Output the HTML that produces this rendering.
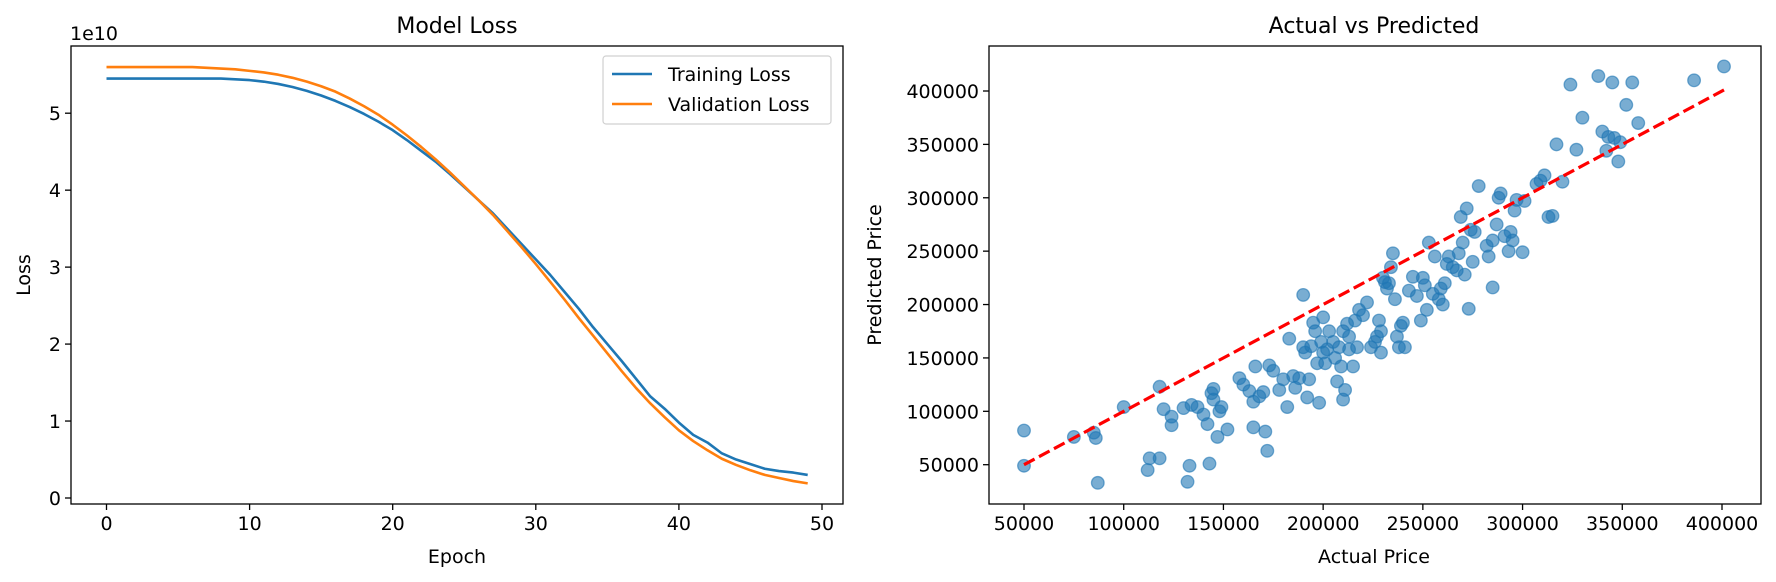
<!DOCTYPE html>
<html><head><meta charset="utf-8">
<style>
html,body{margin:0;padding:0;background:#fff;}
svg{display:block;font-family:"DejaVu Sans","Liberation Sans",sans-serif;}
</style></head>
<body>
<svg id="fig" width="1776" height="582" viewBox="0 0 1776 582" xmlns="http://www.w3.org/2000/svg">
<g id="left"></g>
<g id="right"></g>
</svg>
<script>
const epochs = Array.from({length:50},(_,i)=>i);
const trainLoss = [5.45,5.45,5.45,5.45,5.45,5.45,5.45,5.45,5.45,5.44,5.43,5.41,5.38,5.34,5.29,5.23,5.16,5.08,4.99,4.89,4.78,4.65,4.51,4.37,4.21,4.04,3.87,3.70,3.50,3.30,3.10,2.90,2.68,2.46,2.22,2.00,1.78,1.55,1.32,1.16,0.98,0.82,0.72,0.58,0.50,0.44,0.38,0.35,0.33,0.30];
const valLoss = [5.60,5.60,5.60,5.60,5.60,5.60,5.60,5.59,5.58,5.57,5.55,5.53,5.50,5.46,5.41,5.35,5.28,5.19,5.09,4.98,4.85,4.71,4.56,4.40,4.23,4.05,3.87,3.68,3.47,3.26,3.04,2.81,2.58,2.34,2.11,1.88,1.65,1.43,1.23,1.05,0.88,0.74,0.62,0.51,0.43,0.36,0.30,0.26,0.22,0.19];
const lossXTicks = [0,10,20,30,40,50];
const lossYTicks = [0,1,2,3,4,5];
const actualPrice = [50000,50000,75000,85000,86000,87000,100000,113000,112000,118000,118000,120000,124000,124000,130000,132000,133000,134000,137000,140000,142000,143000,144000,145000,145000,147000,148000,149000,152000,158000,160000,163000,165000,165000,166000,168000,170000,171000,172000,173000,175000,178000,180000,182000,183000,185000,186000,188000,190000,190000,191000,192000,193000,194000,195000,196000,197000,198000,199000,200000,200000,201000,202000,203000,205000,206000,207000,208000,209000,210000,210000,211000,212000,213000,213000,215000,216000,217000,218000,220000,222000,224000,226000,227000,228000,229000,229000,230000,231000,232000,233000,234000,235000,236000,237000,238000,239000,240000,241000,243000,245000,247000,249000,250000,251000,252000,253000,255000,256000,258000,259000,260000,261000,262000,263000,265000,267000,268000,269000,270000,271000,272000,273000,274000,275000,276000,278000,282000,283000,285000,285000,287000,288000,289000,291000,293000,294000,295000,296000,297000,300000,301000,307000,309000,311000,313000,315000,317000,320000,324000,327000,330000,338000,340000,342000,343000,345000,346000,348000,349000,352000,355000,358000,386000,401000];
const predictedPrice = [82000,49000,76000,80000,75000,33000,104000,56000,45000,123000,56000,102000,95000,87000,103000,34000,49000,106000,104000,97000,88000,51000,117000,121000,111000,76000,100000,104000,83000,131000,125000,119000,85000,109000,142000,114000,118000,81000,63000,143000,138000,120000,130000,104000,168000,133000,122000,131000,209000,160000,155000,113000,130000,161000,183000,175000,145000,108000,165000,155000,188000,145000,158000,175000,165000,150000,128000,160000,142000,175000,111000,120000,182000,158000,170000,142000,185000,160000,195000,190000,202000,160000,165000,170000,185000,155000,175000,225000,221000,215000,220000,235000,248000,205000,170000,160000,180000,183000,160000,213000,226000,208000,185000,225000,218000,195000,258000,210000,245000,205000,215000,200000,220000,238000,245000,235000,232000,248000,282000,258000,228000,290000,196000,270000,240000,268000,311000,255000,245000,216000,260000,275000,300000,304000,264000,250000,268000,260000,288000,298000,249000,297000,313000,316000,321000,282000,283000,350000,315000,406000,345000,375000,414000,362000,344000,357000,408000,356000,334000,352000,387000,408000,370000,410000,423000];
const priceXTicks = [50000,100000,150000,200000,250000,300000,350000,400000];
const priceYTicks = [50000,100000,150000,200000,250000,300000,350000,400000];

const NS="http://www.w3.org/2000/svg";
function mk(parent,tag,attrs,text){const e=document.createElementNS(NS,tag);for(const k in attrs)e.setAttribute(k,attrs[k]);if(text!==undefined)e.textContent=text;parent.appendChild(e);return e;}

// ---------- Left chart ----------
const L=document.getElementById('left');
const lx=v=>106.5+v*14.31;
const ly=v=>498-v*76.96;
const LB={x0:71,x1:843,y0:46,y1:504};
let t=mk(L,'text',{x:457,y:33,'font-size':22,'text-anchor':'middle',fill:'#000'},'Model Loss');


t=mk(L,'text',{x:70,y:40,'font-size':19,fill:'#000'},'1e10');


lossXTicks.forEach(v=>{
  const g=mk(L,'g',{});
  
  
  mk(g,'line',{x1:lx(v),x2:lx(v),y1:LB.y1,y2:LB.y1+6,stroke:'#000','stroke-width':1.3});
  mk(g,'text',{x:lx(v),y:530,'font-size':19,'text-anchor':'middle',fill:'#000'},String(v));
});
lossYTicks.forEach(v=>{
  const g=mk(L,'g',{});
  
  
  mk(g,'line',{x1:LB.x0-6,x2:LB.x0,y1:ly(v),y2:ly(v),stroke:'#000','stroke-width':1.3});
  mk(g,'text',{x:LB.x0-10,y:ly(v)+7,'font-size':19,'text-anchor':'end',fill:'#000'},String(v));
});
function poly(parent,xs,ys,fx,fy,color,name){
  const p=mk(parent,'polyline',{points:xs.map((x,i)=>fx(x)+','+fy(ys[i])).join(' '),fill:'none',stroke:color,'stroke-width':2.6,'stroke-linejoin':'round'});
  
  
}
poly(L,epochs,trainLoss,lx,ly,'#1f77b4','training-loss-line');
poly(L,epochs,valLoss,lx,ly,'#ff7f0e','validation-loss-line');
let r=mk(L,'rect',{x:LB.x0,y:LB.y0,width:LB.x1-LB.x0,height:LB.y1-LB.y0,fill:'none',stroke:'#000','stroke-width':1.3});


t=mk(L,'text',{x:457,y:563,'font-size':19,'text-anchor':'middle',fill:'#000'},'Epoch');


t=mk(L,'text',{x:30,y:275,'font-size':19,'text-anchor':'middle',fill:'#000',transform:'rotate(-90 30 275)'},'Loss');


// legend
const lg=mk(L,'g',{});


mk(lg,'rect',{x:603,y:56,width:228,height:68,rx:3,fill:'#fff',stroke:'#ccc','stroke-width':1.2,opacity:0.9});
const e1=mk(lg,'g',{});


mk(e1,'line',{x1:612,x2:652,y1:74,y2:74,stroke:'#1f77b4','stroke-width':2.6});
mk(e1,'text',{x:668,y:81,'font-size':19,fill:'#000'},'Training Loss');
const e2=mk(lg,'g',{});


mk(e2,'line',{x1:612,x2:652,y1:104,y2:104,stroke:'#ff7f0e','stroke-width':2.6});
mk(e2,'text',{x:668,y:111,'font-size':19,fill:'#000'},'Validation Loss');

// ---------- Right chart ----------
const R=document.getElementById('right');
const RB={x0:989,x1:1761,y0:46,y1:504};
const px=v=>1024+(v-50000)*(698/350000);
const py=v=>464.7-(v-50000)*(373.7/350000);
t=mk(R,'text',{x:1374,y:33,'font-size':22,'text-anchor':'middle',fill:'#000'},'Actual vs Predicted');


priceXTicks.forEach(v=>{
  const g=mk(R,'g',{});
  
  
  mk(g,'line',{x1:px(v),x2:px(v),y1:RB.y1,y2:RB.y1+6,stroke:'#000','stroke-width':1.3});
  mk(g,'text',{x:px(v),y:530,'font-size':19,'text-anchor':'middle',fill:'#000'},String(v));
});
priceYTicks.forEach(v=>{
  const g=mk(R,'g',{});
  
  
  mk(g,'line',{x1:RB.x0-6,x2:RB.x0,y1:py(v),y2:py(v),stroke:'#000','stroke-width':1.3});
  mk(g,'text',{x:RB.x0-10,y:py(v)+7,'font-size':19,'text-anchor':'end',fill:'#000'},String(v));
});
const pts=mk(R,'g',{});


actualPrice.forEach((a,i)=>{
  const c=mk(pts,'circle',{cx:px(a),cy:py(predictedPrice[i]),r:6.3,fill:'#1f77b4','fill-opacity':0.6,stroke:'#1f77b4','stroke-opacity':0.6,'stroke-width':1.3});
  
  
});
const mn=Math.min(...actualPrice), mx=Math.max(...actualPrice);
const dl=mk(R,'line',{x1:px(mn),y1:py(mn),x2:px(mx),y2:py(mx),stroke:'#ff0000','stroke-width':3.2,'stroke-dasharray':'12,5'});


r=mk(R,'rect',{x:RB.x0,y:RB.y0,width:RB.x1-RB.x0,height:RB.y1-RB.y0,fill:'none',stroke:'#000','stroke-width':1.3});


t=mk(R,'text',{x:1374,y:563,'font-size':19,'text-anchor':'middle',fill:'#000'},'Actual Price');


t=mk(R,'text',{x:881,y:275,'font-size':19,'text-anchor':'middle',fill:'#000',transform:'rotate(-90 881 275)'},'Predicted Price');


</script>
</body></html>
